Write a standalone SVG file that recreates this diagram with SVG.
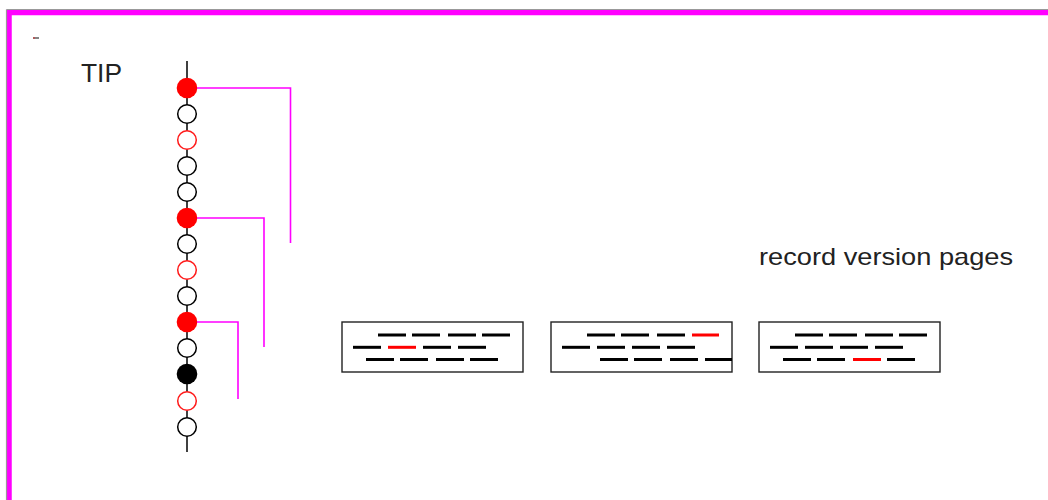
<svg xmlns="http://www.w3.org/2000/svg" width="1048" height="500" viewBox="0 0 1048 500">
<style>
.lbl{font-family:"Liberation Sans",Arial,sans-serif;fill:#222}
.c{fill:#fff;stroke:#000;stroke-width:1.5}
.cr{fill:#fff;stroke:#ff1a1a;stroke-width:1.5}
.fr{fill:#ff0000}
.fb{fill:#000}
.box{fill:#fff;stroke:#222;stroke-width:1.4}
.d{stroke:#000;stroke-width:3}
.dr{stroke:#ff0000;stroke-width:3}
.con{fill:none;stroke:#ff00ff;stroke-width:1.6}
</style>
<defs>
<g id="row1"><line class="d" x1="36" y1="13" x2="64" y2="13"/><line class="d" x1="70" y1="13" x2="98" y2="13"/><line class="d" x1="106" y1="13" x2="134" y2="13"/></g>
</defs>
<rect width="1048" height="500" fill="#fff"/>
<g id="frame">
<rect x="9" y="12.5" width="1045" height="495" fill="none" stroke="#ff00ff" stroke-width="5.5"/>
<line x1="6.5" y1="9.5" x2="1048" y2="9.5" stroke="#999" stroke-width="1.2"/>
<line x1="6.5" y1="9.5" x2="6.5" y2="500" stroke="#999" stroke-width="1.2"/>
<line x1="33" y1="38" x2="39" y2="38" stroke="#333" stroke-width="1.2"/>
<line x1="33" y1="38" x2="35" y2="38" stroke="#d33" stroke-width="1.2"/>
</g>
<g id="tip-label"><text class="lbl" x="81" y="82" font-size="26" textLength="41" lengthAdjust="spacingAndGlyphs">TIP</text></g>
<g id="chain">
<line x1="187" y1="61" x2="187" y2="452" stroke="#000" stroke-width="1.5"/>
<circle class="fr" cx="187" cy="88" r="10.3"/>
<circle class="c" cx="187" cy="114" r="9.3"/>
<circle class="cr" cx="187" cy="140" r="9.3"/>
<circle class="c" cx="187" cy="166" r="9.3"/>
<circle class="c" cx="187" cy="192" r="9.3"/>
<circle class="fr" cx="187" cy="218" r="10.3"/>
<circle class="c" cx="187" cy="244" r="9.3"/>
<circle class="cr" cx="187" cy="270" r="9.3"/>
<circle class="c" cx="187" cy="296" r="9.3"/>
<circle class="fr" cx="187" cy="322" r="10.3"/>
<circle class="c" cx="187" cy="348" r="9.3"/>
<circle class="fb" cx="187" cy="374" r="10.3"/>
<circle class="cr" cx="187" cy="401" r="9.3"/>
<circle class="c" cx="187" cy="427" r="9.3"/>
</g>
<g id="connectors">
<polyline class="con" points="197,88 290.5,88 290.5,243"/>
<polyline class="con" points="197,218 264,218 264,347"/>
<polyline class="con" points="197,322 238,322 238,399"/>
</g>
<g id="pages-label"><text class="lbl" x="759" y="265" font-size="24" textLength="254" lengthAdjust="spacingAndGlyphs">record version pages</text></g>
<g id="page1" transform="translate(342,322)">
<rect class="box" x="0" y="0" width="181" height="50"/>
<use href="#row1"/><line class="d" x1="140" y1="13" x2="168" y2="13"/>
<line class="d" x1="11" y1="25.3" x2="39" y2="25.3"/><line class="dr" x1="46" y1="25.3" x2="74" y2="25.3"/><line class="d" x1="81" y1="25.3" x2="109" y2="25.3"/><line class="d" x1="116" y1="25.3" x2="144" y2="25.3"/>
<line class="d" x1="24" y1="37.5" x2="52" y2="37.5"/><line class="d" x1="58" y1="37.5" x2="86" y2="37.5"/><line class="d" x1="94" y1="37.5" x2="122" y2="37.5"/><line class="d" x1="128" y1="37.5" x2="156" y2="37.5"/>
</g>
<g id="page2" transform="translate(551,322)">
<rect class="box" x="0" y="0" width="181" height="50"/>
<use href="#row1"/><line class="dr" x1="141" y1="13" x2="168" y2="13"/>
<line class="d" x1="11" y1="25.3" x2="39" y2="25.3"/><line class="d" x1="46" y1="25.3" x2="74" y2="25.3"/><line class="d" x1="81" y1="25.3" x2="109" y2="25.3"/><line class="d" x1="116" y1="25.3" x2="144" y2="25.3"/>
<line class="d" x1="49" y1="37.5" x2="77" y2="37.5"/><line class="d" x1="83" y1="37.5" x2="111" y2="37.5"/><line class="d" x1="119" y1="37.5" x2="147" y2="37.5"/><line class="d" x1="154" y1="37.5" x2="181" y2="37.5"/>
</g>
<g id="page3" transform="translate(759,322)">
<rect class="box" x="0" y="0" width="181" height="50"/>
<use href="#row1"/><line class="d" x1="140" y1="13" x2="168" y2="13"/>
<line class="d" x1="11" y1="25.3" x2="39" y2="25.3"/><line class="d" x1="46" y1="25.3" x2="74" y2="25.3"/><line class="d" x1="81" y1="25.3" x2="109" y2="25.3"/><line class="d" x1="116" y1="25.3" x2="144" y2="25.3"/>
<line class="d" x1="24" y1="37.5" x2="52" y2="37.5"/><line class="d" x1="58" y1="37.5" x2="86" y2="37.5"/><line class="dr" x1="94" y1="37.5" x2="122" y2="37.5"/><line class="d" x1="128" y1="37.5" x2="156" y2="37.5"/>
</g>
</svg>
